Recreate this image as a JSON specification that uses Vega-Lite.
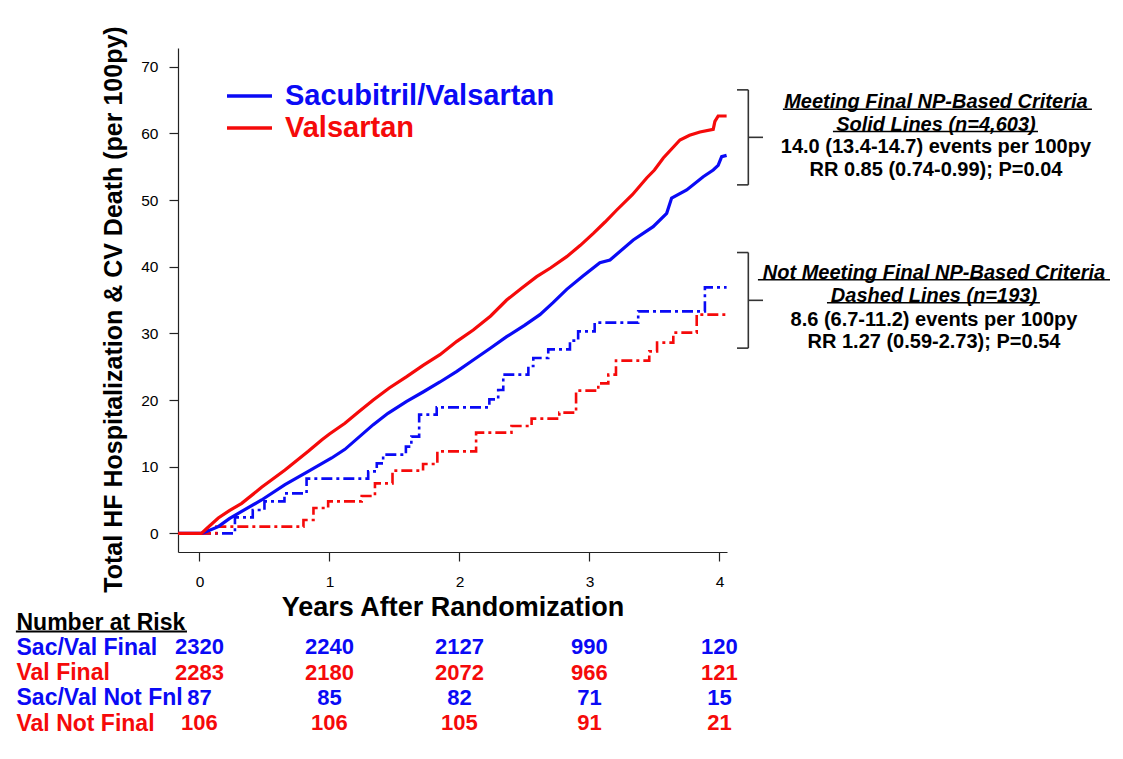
{
  "$schema": "https://vega.github.io/schema/vega-lite/v6.json",
  "width": 549,
  "height": 504,
  "autosize": {"type": "none"},
  "padding": {"left": 178, "top": 48, "right": 396, "bottom": 207},
  "background": "white",
  "config": {
    "view": {"stroke": null},
    "font": "Liberation Sans",
    "axis": {"grid": false, "labelFont": "Liberation Sans", "titleFont": "Liberation Sans"},
    "text": {"font": "Liberation Sans"}
  },
  "datasets": {
    "curves": [
      {"arm": "Sacubitril/Valsartan", "cohort": "Final", "t": -0.165, "v": 0},
      {"arm": "Sacubitril/Valsartan", "cohort": "Final", "t": 0.015, "v": 0},
      {"arm": "Sacubitril/Valsartan", "cohort": "Final", "t": 0.06, "v": 0.3},
      {"arm": "Sacubitril/Valsartan", "cohort": "Final", "t": 0.145, "v": 1.0},
      {"arm": "Sacubitril/Valsartan", "cohort": "Final", "t": 0.23, "v": 2.2},
      {"arm": "Sacubitril/Valsartan", "cohort": "Final", "t": 0.325, "v": 3.3},
      {"arm": "Sacubitril/Valsartan", "cohort": "Final", "t": 0.478, "v": 5.0},
      {"arm": "Sacubitril/Valsartan", "cohort": "Final", "t": 0.658, "v": 7.3},
      {"arm": "Sacubitril/Valsartan", "cohort": "Final", "t": 0.837, "v": 9.3},
      {"arm": "Sacubitril/Valsartan", "cohort": "Final", "t": 1.017, "v": 11.3},
      {"arm": "Sacubitril/Valsartan", "cohort": "Final", "t": 1.119, "v": 12.6},
      {"arm": "Sacubitril/Valsartan", "cohort": "Final", "t": 1.337, "v": 16.3},
      {"arm": "Sacubitril/Valsartan", "cohort": "Final", "t": 1.45, "v": 18.0},
      {"arm": "Sacubitril/Valsartan", "cohort": "Final", "t": 1.594, "v": 19.8},
      {"arm": "Sacubitril/Valsartan", "cohort": "Final", "t": 1.72, "v": 21.2},
      {"arm": "Sacubitril/Valsartan", "cohort": "Final", "t": 1.85, "v": 22.7},
      {"arm": "Sacubitril/Valsartan", "cohort": "Final", "t": 1.98, "v": 24.3},
      {"arm": "Sacubitril/Valsartan", "cohort": "Final", "t": 2.106, "v": 26.0},
      {"arm": "Sacubitril/Valsartan", "cohort": "Final", "t": 2.24, "v": 27.8},
      {"arm": "Sacubitril/Valsartan", "cohort": "Final", "t": 2.363, "v": 29.5},
      {"arm": "Sacubitril/Valsartan", "cohort": "Final", "t": 2.5, "v": 31.2},
      {"arm": "Sacubitril/Valsartan", "cohort": "Final", "t": 2.619, "v": 32.8},
      {"arm": "Sacubitril/Valsartan", "cohort": "Final", "t": 2.72, "v": 34.6},
      {"arm": "Sacubitril/Valsartan", "cohort": "Final", "t": 2.825, "v": 36.6},
      {"arm": "Sacubitril/Valsartan", "cohort": "Final", "t": 2.95, "v": 38.6},
      {"arm": "Sacubitril/Valsartan", "cohort": "Final", "t": 3.08, "v": 40.6},
      {"arm": "Sacubitril/Valsartan", "cohort": "Final", "t": 3.158, "v": 41.0},
      {"arm": "Sacubitril/Valsartan", "cohort": "Final", "t": 3.337, "v": 44.0},
      {"arm": "Sacubitril/Valsartan", "cohort": "Final", "t": 3.49, "v": 46.0},
      {"arm": "Sacubitril/Valsartan", "cohort": "Final", "t": 3.594, "v": 48.0},
      {"arm": "Sacubitril/Valsartan", "cohort": "Final", "t": 3.632, "v": 50.3},
      {"arm": "Sacubitril/Valsartan", "cohort": "Final", "t": 3.748, "v": 51.5},
      {"arm": "Sacubitril/Valsartan", "cohort": "Final", "t": 3.875, "v": 53.5},
      {"arm": "Sacubitril/Valsartan", "cohort": "Final", "t": 3.952, "v": 54.5},
      {"arm": "Sacubitril/Valsartan", "cohort": "Final", "t": 3.99, "v": 55.2},
      {"arm": "Sacubitril/Valsartan", "cohort": "Final", "t": 4.017, "v": 56.5},
      {"arm": "Sacubitril/Valsartan", "cohort": "Final", "t": 4.055, "v": 56.7},
      {"arm": "Valsartan", "cohort": "Final", "t": -0.165, "v": 0},
      {"arm": "Valsartan", "cohort": "Final", "t": 0.015, "v": 0},
      {"arm": "Valsartan", "cohort": "Final", "t": 0.06, "v": 0.8},
      {"arm": "Valsartan", "cohort": "Final", "t": 0.145, "v": 2.3},
      {"arm": "Valsartan", "cohort": "Final", "t": 0.23, "v": 3.4},
      {"arm": "Valsartan", "cohort": "Final", "t": 0.325, "v": 4.5},
      {"arm": "Valsartan", "cohort": "Final", "t": 0.478, "v": 6.9},
      {"arm": "Valsartan", "cohort": "Final", "t": 0.658, "v": 9.5},
      {"arm": "Valsartan", "cohort": "Final", "t": 0.837, "v": 12.3},
      {"arm": "Valsartan", "cohort": "Final", "t": 0.94, "v": 14.0},
      {"arm": "Valsartan", "cohort": "Final", "t": 1.0, "v": 14.9},
      {"arm": "Valsartan", "cohort": "Final", "t": 1.119, "v": 16.5},
      {"arm": "Valsartan", "cohort": "Final", "t": 1.23, "v": 18.3},
      {"arm": "Valsartan", "cohort": "Final", "t": 1.337, "v": 20.0},
      {"arm": "Valsartan", "cohort": "Final", "t": 1.46, "v": 21.8},
      {"arm": "Valsartan", "cohort": "Final", "t": 1.594, "v": 23.5},
      {"arm": "Valsartan", "cohort": "Final", "t": 1.72, "v": 25.2},
      {"arm": "Valsartan", "cohort": "Final", "t": 1.85, "v": 26.8},
      {"arm": "Valsartan", "cohort": "Final", "t": 1.98, "v": 28.8},
      {"arm": "Valsartan", "cohort": "Final", "t": 2.106, "v": 30.5},
      {"arm": "Valsartan", "cohort": "Final", "t": 2.24, "v": 32.6},
      {"arm": "Valsartan", "cohort": "Final", "t": 2.363, "v": 35.0},
      {"arm": "Valsartan", "cohort": "Final", "t": 2.48, "v": 36.8},
      {"arm": "Valsartan", "cohort": "Final", "t": 2.594, "v": 38.5},
      {"arm": "Valsartan", "cohort": "Final", "t": 2.7, "v": 39.8},
      {"arm": "Valsartan", "cohort": "Final", "t": 2.825, "v": 41.5},
      {"arm": "Valsartan", "cohort": "Final", "t": 2.93, "v": 43.2},
      {"arm": "Valsartan", "cohort": "Final", "t": 3.03, "v": 45.0},
      {"arm": "Valsartan", "cohort": "Final", "t": 3.12, "v": 46.7},
      {"arm": "Valsartan", "cohort": "Final", "t": 3.21, "v": 48.5},
      {"arm": "Valsartan", "cohort": "Final", "t": 3.33, "v": 50.8},
      {"arm": "Valsartan", "cohort": "Final", "t": 3.44, "v": 53.3},
      {"arm": "Valsartan", "cohort": "Final", "t": 3.5, "v": 54.5},
      {"arm": "Valsartan", "cohort": "Final", "t": 3.568, "v": 56.3},
      {"arm": "Valsartan", "cohort": "Final", "t": 3.696, "v": 59.0},
      {"arm": "Valsartan", "cohort": "Final", "t": 3.77, "v": 59.7},
      {"arm": "Valsartan", "cohort": "Final", "t": 3.85, "v": 60.2},
      {"arm": "Valsartan", "cohort": "Final", "t": 3.952, "v": 60.6},
      {"arm": "Valsartan", "cohort": "Final", "t": 3.965, "v": 61.8},
      {"arm": "Valsartan", "cohort": "Final", "t": 3.99, "v": 62.6},
      {"arm": "Valsartan", "cohort": "Final", "t": 4.055, "v": 62.6},
      {"arm": "Sacubitril/Valsartan", "cohort": "Not Final", "t": -0.165, "v": 0},
      {"arm": "Sacubitril/Valsartan", "cohort": "Not Final", "t": 0.273, "v": 2.4},
      {"arm": "Sacubitril/Valsartan", "cohort": "Not Final", "t": 0.41, "v": 3.5},
      {"arm": "Sacubitril/Valsartan", "cohort": "Not Final", "t": 0.5, "v": 4.8},
      {"arm": "Sacubitril/Valsartan", "cohort": "Not Final", "t": 0.654, "v": 6.0},
      {"arm": "Sacubitril/Valsartan", "cohort": "Not Final", "t": 0.824, "v": 8.2},
      {"arm": "Sacubitril/Valsartan", "cohort": "Not Final", "t": 1.298, "v": 9.3},
      {"arm": "Sacubitril/Valsartan", "cohort": "Not Final", "t": 1.364, "v": 10.5},
      {"arm": "Sacubitril/Valsartan", "cohort": "Not Final", "t": 1.413, "v": 11.8},
      {"arm": "Sacubitril/Valsartan", "cohort": "Not Final", "t": 1.588, "v": 13.0},
      {"arm": "Sacubitril/Valsartan", "cohort": "Not Final", "t": 1.63, "v": 14.5},
      {"arm": "Sacubitril/Valsartan", "cohort": "Not Final", "t": 1.69, "v": 17.8},
      {"arm": "Sacubitril/Valsartan", "cohort": "Not Final", "t": 1.825, "v": 18.9},
      {"arm": "Sacubitril/Valsartan", "cohort": "Not Final", "t": 2.23, "v": 20.1},
      {"arm": "Sacubitril/Valsartan", "cohort": "Not Final", "t": 2.298, "v": 21.5},
      {"arm": "Sacubitril/Valsartan", "cohort": "Not Final", "t": 2.337, "v": 23.8},
      {"arm": "Sacubitril/Valsartan", "cohort": "Not Final", "t": 2.53, "v": 25.1},
      {"arm": "Sacubitril/Valsartan", "cohort": "Not Final", "t": 2.568, "v": 26.3},
      {"arm": "Sacubitril/Valsartan", "cohort": "Not Final", "t": 2.683, "v": 27.6},
      {"arm": "Sacubitril/Valsartan", "cohort": "Not Final", "t": 2.85, "v": 28.9},
      {"arm": "Sacubitril/Valsartan", "cohort": "Not Final", "t": 2.913, "v": 30.3},
      {"arm": "Sacubitril/Valsartan", "cohort": "Not Final", "t": 3.04, "v": 31.6},
      {"arm": "Sacubitril/Valsartan", "cohort": "Not Final", "t": 3.375, "v": 33.3},
      {"arm": "Sacubitril/Valsartan", "cohort": "Not Final", "t": 3.888, "v": 36.9},
      {"arm": "Sacubitril/Valsartan", "cohort": "Not Final", "t": 4.055, "v": 36.9},
      {"arm": "Valsartan", "cohort": "Not Final", "t": -0.165, "v": 0},
      {"arm": "Valsartan", "cohort": "Not Final", "t": 0.13, "v": 1.0},
      {"arm": "Valsartan", "cohort": "Not Final", "t": 0.8, "v": 2.0},
      {"arm": "Valsartan", "cohort": "Not Final", "t": 0.877, "v": 3.8},
      {"arm": "Valsartan", "cohort": "Not Final", "t": 0.99, "v": 4.8},
      {"arm": "Valsartan", "cohort": "Not Final", "t": 1.248, "v": 5.6},
      {"arm": "Valsartan", "cohort": "Not Final", "t": 1.35, "v": 7.5},
      {"arm": "Valsartan", "cohort": "Not Final", "t": 1.485, "v": 9.4},
      {"arm": "Valsartan", "cohort": "Not Final", "t": 1.72, "v": 10.4},
      {"arm": "Valsartan", "cohort": "Not Final", "t": 1.83, "v": 12.3},
      {"arm": "Valsartan", "cohort": "Not Final", "t": 2.128, "v": 15.1},
      {"arm": "Valsartan", "cohort": "Not Final", "t": 2.4, "v": 16.1},
      {"arm": "Valsartan", "cohort": "Not Final", "t": 2.555, "v": 17.2},
      {"arm": "Valsartan", "cohort": "Not Final", "t": 2.768, "v": 18.1},
      {"arm": "Valsartan", "cohort": "Not Final", "t": 2.897, "v": 21.4},
      {"arm": "Valsartan", "cohort": "Not Final", "t": 3.068, "v": 22.5},
      {"arm": "Valsartan", "cohort": "Not Final", "t": 3.145, "v": 23.8},
      {"arm": "Valsartan", "cohort": "Not Final", "t": 3.204, "v": 25.9},
      {"arm": "Valsartan", "cohort": "Not Final", "t": 3.46, "v": 27.3},
      {"arm": "Valsartan", "cohort": "Not Final", "t": 3.52, "v": 28.6},
      {"arm": "Valsartan", "cohort": "Not Final", "t": 3.645, "v": 30.1},
      {"arm": "Valsartan", "cohort": "Not Final", "t": 3.825, "v": 32.8},
      {"arm": "Valsartan", "cohort": "Not Final", "t": 4.055, "v": 32.8}
    ],
    "risk": [
      {"row": "Sac/Val Final", "arm": "Sacubitril/Valsartan", "year": 0, "n": 2320},
      {"row": "Sac/Val Final", "arm": "Sacubitril/Valsartan", "year": 1, "n": 2240},
      {"row": "Sac/Val Final", "arm": "Sacubitril/Valsartan", "year": 2, "n": 2127},
      {"row": "Sac/Val Final", "arm": "Sacubitril/Valsartan", "year": 3, "n": 990},
      {"row": "Sac/Val Final", "arm": "Sacubitril/Valsartan", "year": 4, "n": 120},
      {"row": "Val Final", "arm": "Valsartan", "year": 0, "n": 2283},
      {"row": "Val Final", "arm": "Valsartan", "year": 1, "n": 2180},
      {"row": "Val Final", "arm": "Valsartan", "year": 2, "n": 2072},
      {"row": "Val Final", "arm": "Valsartan", "year": 3, "n": 966},
      {"row": "Val Final", "arm": "Valsartan", "year": 4, "n": 121},
      {"row": "Sac/Val Not Fnl", "arm": "Sacubitril/Valsartan", "year": 0, "n": 87},
      {"row": "Sac/Val Not Fnl", "arm": "Sacubitril/Valsartan", "year": 1, "n": 85},
      {"row": "Sac/Val Not Fnl", "arm": "Sacubitril/Valsartan", "year": 2, "n": 82},
      {"row": "Sac/Val Not Fnl", "arm": "Sacubitril/Valsartan", "year": 3, "n": 71},
      {"row": "Sac/Val Not Fnl", "arm": "Sacubitril/Valsartan", "year": 4, "n": 15},
      {"row": "Val Not Final", "arm": "Valsartan", "year": 0, "n": 106},
      {"row": "Val Not Final", "arm": "Valsartan", "year": 1, "n": 106},
      {"row": "Val Not Final", "arm": "Valsartan", "year": 2, "n": 105},
      {"row": "Val Not Final", "arm": "Valsartan", "year": 3, "n": 91},
      {"row": "Val Not Final", "arm": "Valsartan", "year": 4, "n": 21}
    ]
  },
  "layer": [
    {
      "layer": [
        {
          "data": {"name": "curves"},
          "transform": [{"filter": "datum.cohort === 'Not Final'"}],
          "mark": {"type": "line", "interpolate": "step-after", "strokeWidth": 2.6, "strokeDash": [11, 4, 3, 4]},
          "encoding": {
            "x": {"field": "t", "type": "quantitative",
              "scale": {"domain": [-0.165, 4.058], "nice": false, "zero": false},
              "axis": {"values": [0, 1, 2, 3, 4], "format": "d", "title": "Years After Randomization", "titleFontSize": 27, "titleFontWeight": "bold", "titleColor": "black", "titlePadding": 5, "tickSize": 9, "labelPadding": 13, "labelFontSize": 15.5, "labelColor": "black", "labelFlush": false, "domainColor": "#222", "tickColor": "#222", "domainWidth": 1.2, "tickWidth": 1.2}},
            "y": {"field": "v", "type": "quantitative",
              "scale": {"domain": [-2.8, 72.8], "nice": false, "zero": false},
              "axis": {"values": [0, 10, 20, 30, 40, 50, 60, 70], "format": "d", "title": "Total HF Hospitalization & CV Death (per 100py)", "titleFontSize": 25, "titleFontWeight": "bold", "titleColor": "black", "titlePadding": 14, "titleY": 261, "tickSize": 9, "labelPadding": 11, "labelFontSize": 15.5, "labelColor": "black", "domainColor": "#222", "tickColor": "#222", "domainWidth": 1.2, "tickWidth": 1.2}},
            "color": {"field": "arm", "type": "nominal",
              "scale": {"domain": ["Sacubitril/Valsartan", "Valsartan"], "range": ["#0a0af5", "#f50a0a"]},
              "legend": {"orient": "none", "legendX": 57, "legendY": 33.5, "title": null, "padding": 0,
                "symbolType": "M-2,0H2", "symbolSize": 506, "symbolStrokeWidth": 3.5,
                "labelFontSize": 29, "labelFontWeight": "bold", "labelFont": "Liberation Sans", "labelOffset": 21, "labelLimit": 500, "rowPadding": 2,
                "encode": {"labels": {"update": {"fill": {"scale": "color", "field": "value"}}}}}},
            "detail": {"field": "cohort"}
          }
        },
        {
          "data": {"name": "curves"},
          "transform": [{"filter": "datum.cohort === 'Final'"}],
          "mark": {"type": "line", "interpolate": "linear", "strokeWidth": 3.2},
          "encoding": {
            "x": {"field": "t", "type": "quantitative"},
            "y": {"field": "v", "type": "quantitative"},
            "color": {"field": "arm", "type": "nominal"},
            "detail": {"field": "cohort"}
          }
        },
        {
          "data": {"values": [{}]},
          "mark": {"type": "text", "fontSize": 20, "fontWeight": "bold", "fontStyle": "italic", "align": "center", "baseline": "middle", "lineHeight": 22.5, "color": "black"},
          "encoding": {"x": {"datum": 5.665, "type": "quantitative"}, "y": {"datum": 64.7, "type": "quantitative"}, "text": {"value": ["Meeting Final NP-Based Criteria", "Solid Lines (n=4,603)"]}}
        },
        {
          "data": {"values": [{}]},
          "mark": {"type": "text", "fontSize": 20, "fontWeight": "bold", "align": "center", "baseline": "middle", "lineHeight": 22.5, "color": "black"},
          "encoding": {"x": {"datum": 5.665, "type": "quantitative"}, "y": {"datum": 57.9, "type": "quantitative"}, "text": {"value": ["14.0 (13.4-14.7) events per 100py", "RR 0.85 (0.74-0.99); P=0.04"]}}
        },
        {
          "data": {"values": [{}]},
          "mark": {"type": "text", "fontSize": 20, "fontWeight": "bold", "fontStyle": "italic", "align": "center", "baseline": "middle", "lineHeight": 22.5, "color": "black"},
          "encoding": {"x": {"datum": 5.65, "type": "quantitative"}, "y": {"datum": 39.05, "type": "quantitative"}, "text": {"value": ["Not Meeting Final NP-Based Criteria", "Dashed Lines (n=193)"]}}
        },
        {
          "data": {"values": [{}]},
          "mark": {"type": "text", "fontSize": 20, "fontWeight": "bold", "align": "center", "baseline": "middle", "lineHeight": 22.5, "color": "black"},
          "encoding": {"x": {"datum": 5.65, "type": "quantitative"}, "y": {"datum": 32.05, "type": "quantitative"}, "text": {"value": ["8.6 (6.7-11.2) events per 100py", "RR 1.27 (0.59-2.73); P=0.54"]}}
        },
        {
          "data": {"values": [{}]},
          "mark": {"type": "rule", "color": "black", "strokeWidth": 1.5},
          "encoding": {"x": {"datum": 4.488, "type": "quantitative"}, "x2": {"datum": 6.865}, "y": {"datum": 63.63, "type": "quantitative"}}
        },
        {
          "data": {"values": [{}]},
          "mark": {"type": "rule", "color": "black", "strokeWidth": 1.5},
          "encoding": {"x": {"datum": 4.873, "type": "quantitative"}, "x2": {"datum": 6.45}, "y": {"datum": 60.27, "type": "quantitative"}}
        },
        {
          "data": {"values": [{}]},
          "mark": {"type": "rule", "color": "black", "strokeWidth": 1.5},
          "encoding": {"x": {"datum": 4.296, "type": "quantitative"}, "x2": {"datum": 7.004}, "y": {"datum": 38.02, "type": "quantitative"}}
        },
        {
          "data": {"values": [{}]},
          "mark": {"type": "rule", "color": "black", "strokeWidth": 1.5},
          "encoding": {"x": {"datum": 4.827, "type": "quantitative"}, "x2": {"datum": 6.465}, "y": {"datum": 34.57, "type": "quantitative"}}
        },
        {
          "data": {"values": [{}]},
          "mark": {"type": "rule", "color": "black", "strokeWidth": 2},
          "encoding": {"x": {"datum": -1.412, "type": "quantitative"}, "x2": {"datum": -0.096}, "y": {"datum": -14.73, "type": "quantitative"}}
        },
        {
          "data": {"values": [{}]},
          "mark": {"type": "rule", "color": "#333333", "strokeWidth": 1.6},
          "encoding": {"x": {"datum": 4.222, "type": "quantitative"}, "y": {"datum": 66.52, "type": "quantitative"}, "y2": {"datum": 52.27}}
        },
        {
          "data": {"values": [{}]},
          "mark": {"type": "rule", "color": "#333333", "strokeWidth": 1.6},
          "encoding": {"x": {"datum": 4.135, "type": "quantitative"}, "x2": {"datum": 4.222}, "y": {"datum": 66.52, "type": "quantitative"}}
        },
        {
          "data": {"values": [{}]},
          "mark": {"type": "rule", "color": "#333333", "strokeWidth": 1.6},
          "encoding": {"x": {"datum": 4.135, "type": "quantitative"}, "x2": {"datum": 4.222}, "y": {"datum": 52.27, "type": "quantitative"}}
        },
        {
          "data": {"values": [{}]},
          "mark": {"type": "rule", "color": "#333333", "strokeWidth": 1.6},
          "encoding": {"x": {"datum": 4.222, "type": "quantitative"}, "x2": {"datum": 4.335}, "y": {"datum": 59.4, "type": "quantitative"}}
        },
        {
          "data": {"values": [{}]},
          "mark": {"type": "rule", "color": "#333333", "strokeWidth": 1.6},
          "encoding": {"x": {"datum": 4.222, "type": "quantitative"}, "y": {"datum": 42.12, "type": "quantitative"}, "y2": {"datum": 27.78}}
        },
        {
          "data": {"values": [{}]},
          "mark": {"type": "rule", "color": "#333333", "strokeWidth": 1.6},
          "encoding": {"x": {"datum": 4.135, "type": "quantitative"}, "x2": {"datum": 4.222}, "y": {"datum": 42.12, "type": "quantitative"}}
        },
        {
          "data": {"values": [{}]},
          "mark": {"type": "rule", "color": "#333333", "strokeWidth": 1.6},
          "encoding": {"x": {"datum": 4.135, "type": "quantitative"}, "x2": {"datum": 4.222}, "y": {"datum": 27.78, "type": "quantitative"}}
        },
        {
          "data": {"values": [{}]},
          "mark": {"type": "rule", "color": "#333333", "strokeWidth": 1.6},
          "encoding": {"x": {"datum": 4.222, "type": "quantitative"}, "x2": {"datum": 4.335}, "y": {"datum": 34.95, "type": "quantitative"}}
        }
      ]
    },
    {
      "data": {"name": "risk"},
      "mark": {"type": "text", "fontSize": 22, "fontWeight": "bold", "align": "center", "baseline": "middle"},
      "encoding": {
        "x": {"field": "year", "type": "quantitative"},
        "y": {"field": "row", "type": "ordinal",
          "scale": {"type": "point", "domain": ["Number at Risk", "Sac/Val Final", "Val Final", "Sac/Val Not Fnl", "Val Not Final"], "range": [574, 675], "padding": 0},
          "axis": {"orient": "left", "title": null, "domain": false, "ticks": false, "tickSize": 0, "labelPadding": 162, "labelAlign": "left", "labelBaseline": "middle", "labelFontSize": 23, "labelFontWeight": "bold", "labelLimit": 400,
            "labelColor": {"condition": [{"test": "datum.value === 'Number at Risk'", "value": "black"}, {"test": "indexof(datum.value, 'Sac') === 0", "value": "#0a0af5"}], "value": "#f50a0a"}}},
        "text": {"field": "n", "type": "nominal"},
        "color": {"field": "arm", "type": "nominal", "legend": null}
      }
    }
  ],
  "resolve": {"scale": {"y": "independent"}, "axis": {"y": "independent"}}
}
